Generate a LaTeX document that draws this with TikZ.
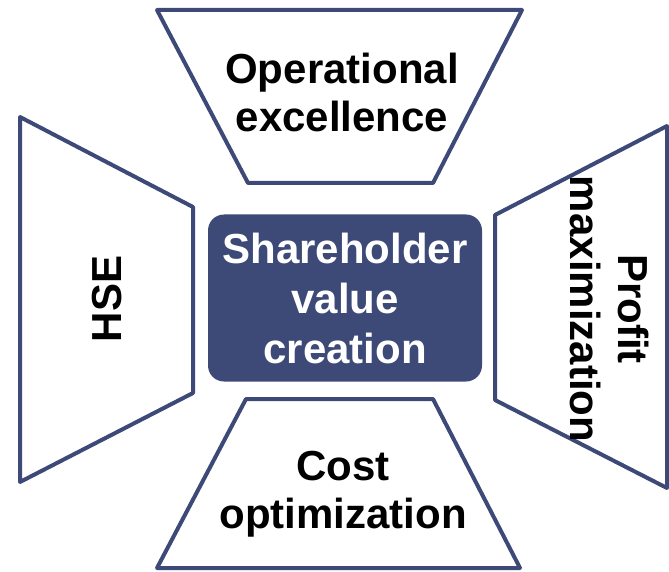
\documentclass[tikz,border=0pt]{standalone}
\usepackage{fontspec}
\setmainfont{Liberation Sans}
\usepackage{tikz}
\usetikzlibrary{positioning}
\definecolor{navy}{RGB}{61,74,120}
\tikzset{
  wing/.style={draw=navy,line width=4pt,line join=round,fill=white},
  lbl/.style={font=\fontsize{42}{48}\selectfont\bfseries,text=black,align=center,inner sep=0pt},
  hub/.style={fill=navy,rounded corners=16pt,minimum width=274pt,minimum height=167pt,
    font=\fontsize{42}{50}\selectfont\bfseries,text=white,align=center,inner sep=0pt},
}

\begin{document}
\begin{tikzpicture}[x=1pt,y=-1pt]
  \useasboundingbox (0,0) rectangle (669,572);
  % the four wings
  \draw[wing] (157,10) -- (522,10) -- (433,183) -- (248,183) -- cycle;
  \draw[wing] (20,117) -- (193,207) -- (193,393) -- (20,482) -- cycle;
  \draw[wing] (667,126) -- (495,215) -- (495,400) -- (667,488) -- cycle;
  \draw[wing] (246,399) -- (433,399) -- (520,568) -- (157,568) -- cycle;
  % hub
  \node[hub] (hub) at (345,298) {Shareholder\\value\\creation};
  % labels
  \node[lbl] (ops) at (342,92) {Operational\\excellence};
  \node[lbl,rotate=90] (hse) at (107,299) {HSE};
  \node[lbl,rotate=-90] (profit) at (610,309) {Profit\\maximization};
  \node[lbl] (cost) at (343,494) {Cost\\optimization};
\end{tikzpicture}
\end{document}
